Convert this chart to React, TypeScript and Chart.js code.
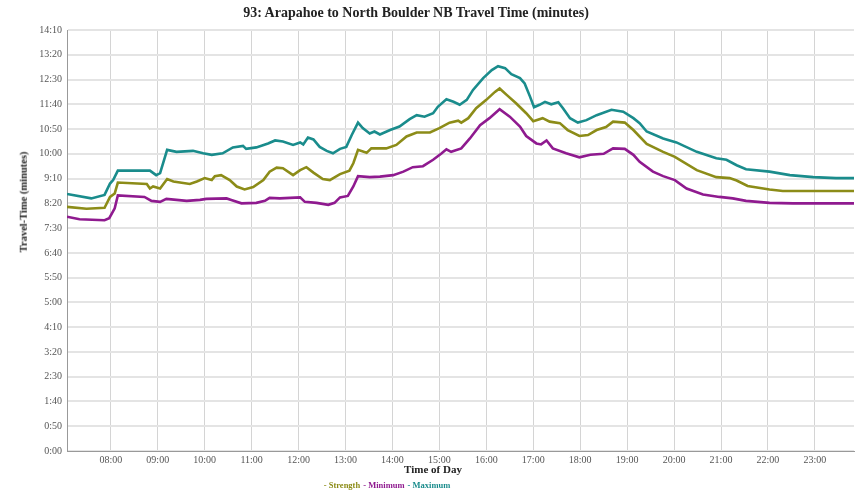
import React, { useEffect, useRef } from "react";
import { Chart, registerables } from "chart.js";

Chart.register(...registerables);

const titleText = "93: Arapahoe to North Boulder NB Travel Time (minutes)";
const yTitleText = "Travel-Time (minutes)";
const xTitleText = "Time of Day";
const seriesNames = ["Strength", "Minimum", "Maximum"];
const seriesColors = ["#8c8c18", "#8f1a8f", "#1a8c8c"];
const hourTicks = [8, 9, 10, 11, 12, 13, 14, 15, 16, 17, 18, 19, 20, 21, 22, 23];

const strengthTimes = ["7:04","7:29","7:52","7:59","8:05","8:09","8:46","8:50","8:54","9:03","9:12","9:20","9:41","9:50","10:00","10:09","10:13","10:21","10:32","10:41","10:51","11:02","11:15","11:23","11:32","11:40","11:53","12:02","12:10","12:19","12:31","12:40","12:53","13:05","13:10","13:16","13:27","13:33","13:52","14:05","14:18","14:31","14:48","15:00","15:13","15:24","15:28","15:37","15:47","16:00","16:11","16:17","16:26","16:38","16:51","17:00","17:12","17:21","17:34","17:44","17:59","18:10","18:21","18:33","18:42","18:57","19:08","19:25","19:46","20:01","20:29","20:54","21:11","21:20","21:34","22:02","22:19","23:50"];
const strengthValues = [493,489,491,513,520,542,539,530,534,530,549,544,539,544,551,547,555,557,547,534,528,533,547,564,572,571,557,567,573,562,549,547,559,566,581,608,602,611,611,618,635,643,643,652,663,667,663,672,692,709,725,732,719,702,682,666,672,665,662,648,636,638,648,654,665,663,648,620,604,594,567,553,551,546,535,528,525,525];

const minimumTimes = ["7:04","7:20","7:52","7:58","8:05","8:09","8:43","8:52","9:03","9:11","9:37","9:54","10:02","10:28","10:34","10:47","11:06","11:17","11:23","11:36","12:02","12:08","12:23","12:38","12:46","12:53","13:03","13:10","13:16","13:31","13:44","14:01","14:14","14:26","14:39","14:52","15:03","15:09","15:15","15:28","15:39","15:52","16:04","16:17","16:30","16:43","16:51","17:04","17:10","17:17","17:25","17:42","17:59","18:13","18:30","18:42","18:57","19:08","19:16","19:33","19:46","20:01","20:16","20:37","20:58","21:15","21:32","22:02","22:32","23:50"];
const minimumValues = [473,468,466,470,490,516,513,505,503,509,505,507,509,510,507,500,501,505,511,510,512,503,501,497,501,512,515,534,555,553,554,557,564,573,575,588,601,609,604,611,631,658,672,690,675,655,636,621,619,627,611,601,593,598,600,611,610,598,584,564,555,547,530,518,513,510,505,501,500,500];

const maximumTimes = ["7:04","7:35","7:52","7:59","8:03","8:09","8:50","8:58","9:03","9:12","9:24","9:45","9:58","10:09","10:23","10:36","10:49","10:53","11:06","11:21","11:30","11:40","11:53","12:02","12:06","12:12","12:19","12:27","12:36","12:44","12:53","13:01","13:08","13:16","13:22","13:31","13:37","13:44","13:57","14:09","14:22","14:31","14:41","14:52","14:58","15:09","15:18","15:26","15:35","15:43","15:56","16:07","16:15","16:24","16:32","16:43","16:49","16:56","17:01","17:08","17:15","17:23","17:32","17:38","17:47","17:57","18:08","18:21","18:40","18:55","19:08","19:16","19:25","19:46","20:03","20:29","20:54","21:07","21:20","21:32","22:02","22:28","22:58","23:27","23:50"];
const maximumValues = [519,510,517,540,547,566,566,557,561,608,604,606,601,598,601,613,616,610,613,621,627,625,618,623,619,633,629,614,606,601,610,614,638,663,652,641,645,639,648,655,670,678,675,682,695,710,705,699,709,729,753,769,777,773,761,753,742,715,694,699,705,700,704,692,672,663,668,678,689,685,672,662,645,631,623,604,591,588,577,569,564,557,553,551,551];

const toMinutes = (s: string) => {
  const [h, m] = s.split(":").map(Number);
  return h * 60 + m;
};
const pairs = (times: string[], values: number[]) =>
  times.map((t, i) => ({ x: toMinutes(t), y: values[i] }));

const fmtSeconds = (v: number) => `${Math.floor(v / 60)}:${String(Math.round(v % 60)).padStart(2, "0")}`;
const fmtHour = (v: number) => `${String(Math.floor(v / 60)).padStart(2, "0")}:00`;

const serif = "'Liberation Serif', 'DejaVu Serif', serif";

export default function App() {
  const ref = useRef<HTMLCanvasElement | null>(null);
  useEffect(() => {
    document.body.style.margin = "0";
    const ctx = ref.current!;
    const data = [
      pairs(strengthTimes, strengthValues),
      pairs(minimumTimes, minimumValues),
      pairs(maximumTimes, maximumValues),
    ];
    const chart = new Chart(ctx, {
      type: "line",
      data: {
        datasets: seriesNames.map((name, i) => ({
          label: name,
          data: data[i],
          borderColor: seriesColors[i],
          backgroundColor: seriesColors[i],
          borderWidth: 2.6,
          pointRadius: 0,
          tension: 0,
          fill: false,
        })),
      },
      options: {
        animation: false,
        responsive: false,
        maintainAspectRatio: false,
        layout: { padding: { left: 0, right: 4, top: 30, bottom: 0 } },
        plugins: {
          title: { display: false },
          legend: { display: false },
          tooltip: { enabled: false },
        },
        scales: {
          x: {
            type: "linear",
            min: 424,
            max: 1430,
            afterBuildTicks: (scale: any) => {
              scale.ticks = hourTicks.map((h) => ({ value: h * 60 }));
            },
            afterFit: (scale: any) => {
              scale.height = 40;
            },
            grid: { color: "#d4d4d4", lineWidth: 1, drawTicks: false },
            border: { color: "#999", width: 1 },
            ticks: {
              callback: (v: any) => fmtHour(Number(v)),
              color: "#555",
              font: { family: serif, size: 10 },
              padding: 3,
              maxRotation: 0,
              autoSkip: false,
            },
          },
          y: {
            min: 0,
            max: 850,
            afterFit: (scale: any) => {
              scale.width = 67;
            },
            ticks: {
              stepSize: 50,
              callback: (v: any) => fmtSeconds(Number(v)),
              color: "#555",
              font: { family: serif, size: 10 },
              padding: 5,
            },
            grid: { color: "#e4e4e4", lineWidth: 2, drawTicks: false },
            border: { color: "#999", width: 1 },
          },
        },
      },
    } as any);
    return () => chart.destroy();
  }, []);

  const textBase: React.CSSProperties = {
    position: "absolute",
    fontFamily: serif,
    fontWeight: "bold",
    whiteSpace: "nowrap",
    lineHeight: 1,
  };

  return (
    <div style={{ position: "relative", width: 858, height: 491, overflow: "hidden" }}>
      <canvas ref={ref} width={858} height={491} style={{ display: "block" }} />
      <div style={{ ...textBase, left: 416, top: 13, transform: "translate(-50%, -50%)", fontSize: 14, color: "#222" }}>
        {titleText}
      </div>
      <div style={{ ...textBase, left: 24, top: 202, transform: "translate(-50%, -50%) rotate(-90deg)", fontSize: 10.5, color: "#222" }}>
        {yTitleText}
      </div>
      <div style={{ ...textBase, left: 433, top: 469, transform: "translate(-50%, -50%)", fontSize: 11, color: "#222" }}>
        {xTitleText}
      </div>
      <div style={{ ...textBase, left: 387, top: 485, transform: "translate(-50%, -50%)", fontSize: 8.5 }}>
        {seriesNames.map((name, i) => (
          <span key={name} style={{ color: seriesColors[i], marginLeft: i === 0 ? 0 : 3 }}>
            - {name}
          </span>
        ))}
      </div>
    </div>
  );
}
